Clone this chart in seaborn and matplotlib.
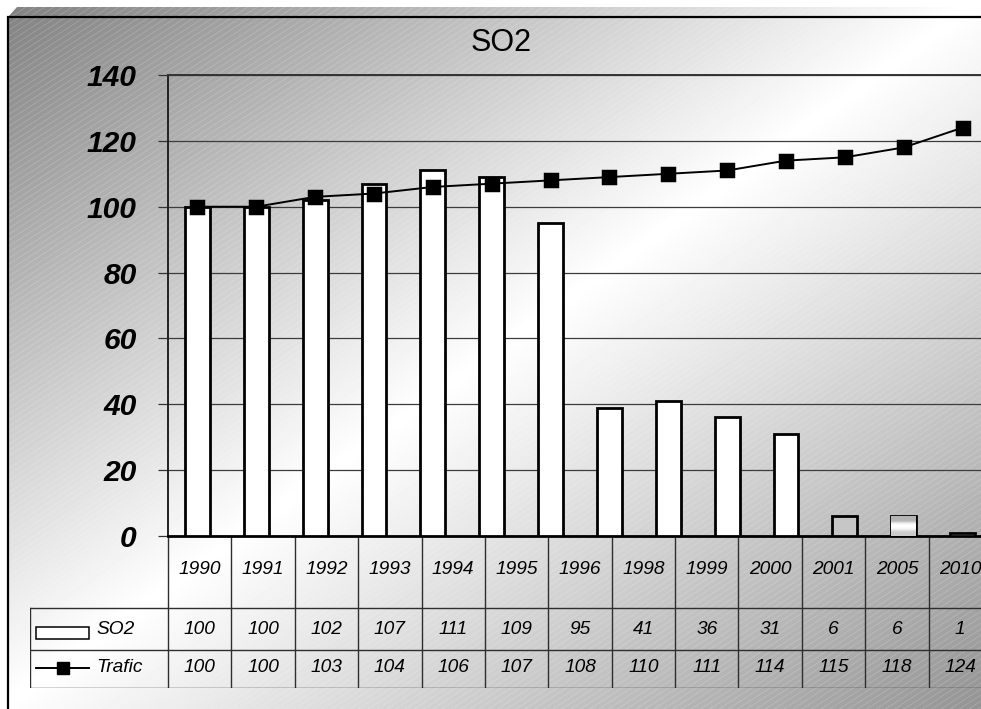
import numpy as np
import pandas as pd
import matplotlib
matplotlib.use("Agg")
import matplotlib.pyplot as plt
from matplotlib.path import Path
from matplotlib.patches import PathPatch, Rectangle
from matplotlib.collections import LineCollection
from matplotlib.lines import Line2D
import seaborn as sns

# ---- data ---------------------------------------------------------------
# values printed in the data table under the chart
table_years = ["1990", "1991", "1992", "1993", "1994", "1995", "1996",
               "1998", "1999", "2000", "2001", "2005", "2010"]
table_so2 = [100, 100, 102, 107, 111, 109, 95, 41, 36, 31, 6, 6, 1]
table_trafic = [100, 100, 103, 104, 106, 107, 108, 110, 111, 114, 115, 118, 124]

# plotted series (they also hold a 1997 point the table leaves out)
plot_years = ["1990", "1991", "1992", "1993", "1994", "1995", "1996", "1997",
              "1998", "1999", "2000", "2001", "2005", "2010"]
plot_so2 = [100, 100, 102, 107, 111, 109, 95, 39, 41, 36, 31, 6, 6, 1]
plot_trafic = [100, 100, 103, 104, 106, 107, 108, 109, 110, 111, 114, 115, 118, 124]

y_ticks = [0, 20, 40, 60, 80, 100, 120, 140]
series_names = ["SO2", "Trafic"]
title = "SO2"

df = pd.DataFrame({"year": plot_years, "SO2": plot_so2, "Trafic": plot_trafic})

# ---- figure & background --------------------------------------------------
W, H = 981, 709
FONT = "Liberation Sans"
fig = plt.figure(figsize=(W / 100, H / 100), dpi=100)
fig.patch.set_facecolor("white")

bg = fig.add_axes([0, 0, 1, 1], zorder=0)
xx, yy = np.meshgrid(np.linspace(0, 1, W), np.linspace(0, 1, H))
t = xx + yy
shade = np.where(t < 1, 0.50 + 0.50 * t, 1.0 - 0.42 * (t - 1))
img = bg.imshow(shade, cmap="gray", vmin=0, vmax=1, extent=[0, W, H, 0],
                interpolation="bilinear", aspect="auto")
frame = PathPatch(Path([(8, H + 5), (8, 17), (17, 7), (W + 5, 7), (W + 5, H + 5), (8, H + 5)],
                       closed=True), facecolor="none", edgecolor="none")
bg.add_patch(frame)
img.set_clip_path(frame)

# fine diagonal stripes over the chart area
ang = np.tan(np.radians(33))
segs = [[(0, c), (W, c - ang * W)] for c in np.arange(0, H + ang * W + 10, 6.0)]
stripes = LineCollection(segs, colors=[(1, 1, 1, 0.22)], linewidths=0.5)
bg.add_collection(stripes)
stripes.set_clip_path(frame)

bg.plot([8, 8, W + 5], [H + 5, 17, 17], color="black", lw=1.6, solid_joinstyle="miter")
bg.set_xlim(0, W)
bg.set_ylim(H, 0)
bg.axis("off")

fig.text(501.5 / W, 1 - 43 / H, title, ha="center", va="center",
         fontsize=22, family=FONT, color="black")

# ---- main plot ----------------------------------------------------------
left, right, top, bottom = 168, 992, 75, 536
ax = fig.add_axes([left / W, (H - bottom) / H, (right - left) / W, (bottom - top) / H], zorder=2)
ax.set_facecolor("none")

sns.barplot(data=df, x="year", y="SO2", color="white", saturation=1, width=0.42,
            edgecolor="black", linewidth=2.0, ax=ax, zorder=3)
sns.pointplot(data=df, x="year", y="Trafic", color="black", markers="s", markersize=9.5,
              linewidth=1.4, errorbar=None, ax=ax, zorder=4)

bars = [p for p in ax.patches if isinstance(p, Rectangle)]
bars[11].set_facecolor("#c6c6c6")
bars[12].set_facecolor("#d6d6d6")
# banded fill of the 2005 bar
b = bars[12]
bx, by, bw, bh = b.get_x(), b.get_y(), b.get_width(), b.get_height()
band = np.array([0.70, 0.70, 0.72, 0.92, 1.0, 1.0, 0.96, 0.84, 0.80, 0.80]).reshape(-1, 1)
bimg = ax.imshow(band, cmap="gray", vmin=0, vmax=1, extent=[bx, bx + bw, by, by + bh],
                 aspect="auto", interpolation="bilinear", zorder=3.5)
bimg.set_clip_path(b)

ax.set_xlim(-0.5, len(plot_years) - 0.5)
ax.set_ylim(0, 140)
ax.set_yticks(y_ticks)
ax.set_yticklabels([str(v) for v in y_ticks], fontsize=21.6, fontweight="bold",
                   fontstyle="italic", family=FONT)
ax.set_xticks([])
ax.set_xlabel("")
ax.set_ylabel("")
ax.tick_params(axis="y", length=7.5, width=0.9, color="#333333", pad=15)
ax.yaxis.grid(True, color="#3c3c3c", linewidth=0.9)
ax.set_axisbelow(True)
ax.spines["right"].set_visible(False)
ax.spines["top"].set_color("#333333")
ax.spines["top"].set_linewidth(1.4)
ax.spines["left"].set_color("#222222")
ax.spines["left"].set_linewidth(1.4)
ax.spines["bottom"].set_color("black")
ax.spines["bottom"].set_linewidth(2.0)

# ---- data table ---------------------------------------------------------
ncol = len(table_years)
col_w = (right - left) / ncol
tab_left, tab_bottom = 30, 688
tab = fig.add_axes([tab_left / W, (H - tab_bottom) / H, (right - tab_left) / W,
                    (tab_bottom - bottom) / H], zorder=1)
x0 = -(left - tab_left) / col_w
tab.set_xlim(x0, ncol)
tab.set_ylim(tab_bottom - bottom, 0)
tab.axis("off")

line_kw = dict(color="#2e2e2e", lw=1.0)
row_edges = [72, 114, 152]
for i in range(ncol + 1):
    tab.plot([i, i], [0, 152], **line_kw)
tab.plot([x0, x0], [72, 152], **line_kw)
for r in row_edges:
    tab.plot([x0, ncol], [r, r], **line_kw)

txt_kw = dict(ha="center", va="center", fontsize=13.8, fontstyle="italic", family=FONT)
for i, (yr, s, tr) in enumerate(zip(table_years, table_so2, table_trafic)):
    tab.text(i + 0.5, 34, yr, **txt_kw)
    tab.text(i + 0.5, 93, str(s), **txt_kw)
    tab.text(i + 0.5, 132, str(tr), **txt_kw)

# legend keys inside the table
kx0 = x0 + 6 / col_w
kx1 = x0 + 59 / col_w
tab.add_patch(Rectangle((kx0, 91), kx1 - kx0, 12, facecolor="white", edgecolor="black", lw=1.1))
tab.add_line(Line2D([kx0, kx1], [132, 132], color="black", lw=1.4))
tab.add_line(Line2D([(kx0 + kx1) / 2], [132], color="black", marker="s", markersize=8))
lab_kw = dict(ha="left", va="center", fontsize=13.8, fontstyle="italic", family=FONT)
tab.text(x0 + 66 / col_w, 93, series_names[0], **lab_kw)
tab.text(x0 + 66 / col_w, 132, series_names[1], **lab_kw)

fig.savefig("out.png", dpi=100)
